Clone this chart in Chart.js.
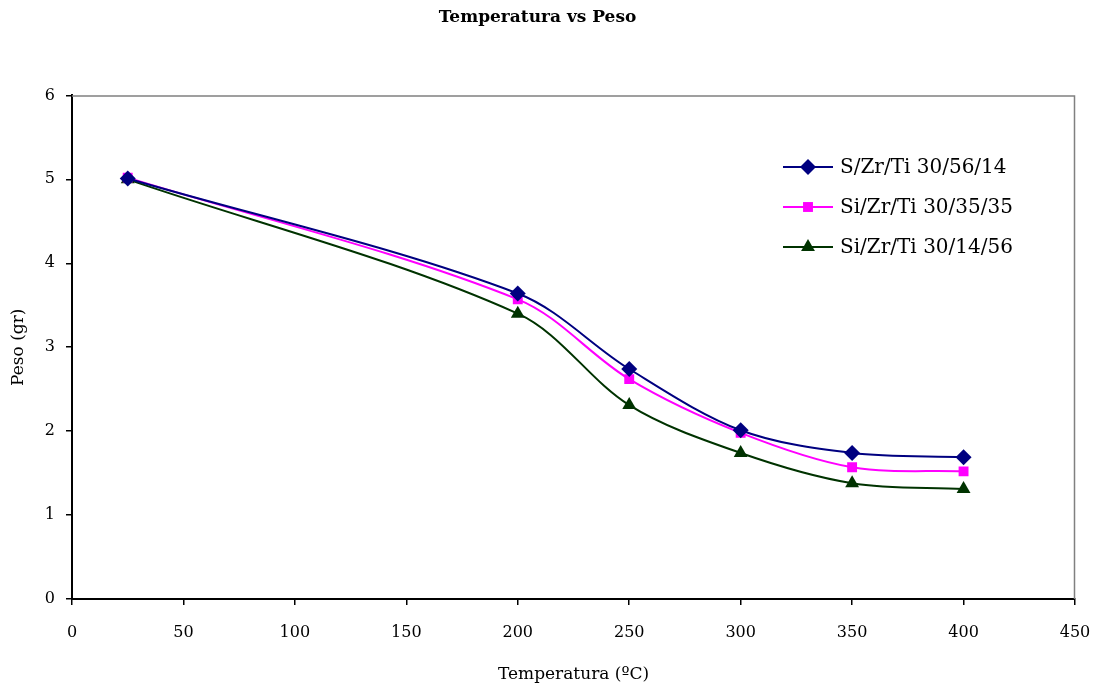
<!DOCTYPE html>
<html>
<head>
<meta charset="utf-8">
<script src="https://cdn.jsdelivr.net/npm/chart.js@4.4.0/dist/chart.umd.min.js"></script>
<style>
html,body{margin:0;padding:0;background:#fff;}
#wrap{width:1095px;height:687px;}
</style>
</head>
<body>
<div id="wrap"><canvas id="c" width="1095" height="687"></canvas></div>
<script>
const temperatures = [25, 200, 250, 300, 350, 400];
const seriesNames = ["S/Zr/Ti 30/56/14", "Si/Zr/Ti 30/35/35", "Si/Zr/Ti 30/14/56"];
const pesoA = [5.01, 3.64, 2.74, 2.01, 1.74, 1.69];
const pesoB = [5.02, 3.57, 2.62, 1.98, 1.57, 1.52];
const pesoC = [5.00, 3.40, 2.31, 1.74, 1.38, 1.31];
const xTicks = [0, 50, 100, 150, 200, 250, 300, 350, 400, 450];
const yTicks = [0, 1, 2, 3, 4, 5, 6];

const serif = "'DejaVu Serif', 'Liberation Serif', serif";
const colors = ["#000080", "#FF00FF", "#003300"];
const styles = ["rectRot", "rect", "triangle"];
const radii = [8, 7, 8];
const values = [pesoA, pesoB, pesoC];

const datasets = values.map((v, i) => ({
  label: seriesNames[i],
  data: temperatures.map((t, j) => ({x: t, y: v[j]})),
  borderColor: colors[i],
  backgroundColor: colors[i],
  borderWidth: 2,
  pointStyle: styles[i],
  pointRadius: radii[i],
  pointHoverRadius: radii[i],
  pointBorderWidth: 0,
  tension: 0.33,
  fill: false
}));

const frame = {
  id: 'frame',
  beforeDatasetsDraw(chart) {
    const {ctx, chartArea: a} = chart;
    ctx.save();
    ctx.strokeStyle = '#808080';
    ctx.lineWidth = 1.5;
    ctx.beginPath();
    ctx.moveTo(a.left, a.top + 0.5);
    ctx.lineTo(a.right - 0.5, a.top + 0.5);
    ctx.lineTo(a.right - 0.5, a.bottom);
    ctx.stroke();
    ctx.restore();
  }
};

const legendBox = {
  id: 'legendBox',
  afterDraw(chart) {
    const ctx = chart.ctx;
    const x0 = 783, x1 = 833, tx = 840;
    const ys = [167, 207, 247];
    ctx.save();
    chart.data.datasets.forEach((ds, i) => {
      const y = ys[i];
      ctx.strokeStyle = ds.borderColor;
      ctx.lineWidth = 2;
      ctx.beginPath();
      ctx.moveTo(x0, y);
      ctx.lineTo(x1, y);
      ctx.stroke();
      ctx.fillStyle = ds.backgroundColor;
      Chart.helpers.drawPoint(ctx, {pointStyle: ds.pointStyle, radius: ds.pointRadius, borderWidth: 0}, (x0 + x1) / 2, y);
      ctx.fillStyle = '#000';
      ctx.font = "20px " + serif;
      ctx.textBaseline = 'middle';
      ctx.textAlign = 'left';
      ctx.fillText(ds.label, tx, y + 1);
    });
    ctx.restore();
  }
};

new Chart(document.getElementById('c'), {
  type: 'line',
  data: {datasets},
  plugins: [frame, legendBox],
  options: {
    responsive: false,
    animation: false,
    layout: {padding: {left: 0, right: 20, top: 0, bottom: 0}},
    plugins: {
      legend: {display: false},
      tooltip: {enabled: false},
      title: {
        display: true,
        text: 'Temperatura vs Peso',
        color: '#000',
        font: {family: serif, size: 17, weight: 'bold'},
        padding: {top: 7, bottom: 68}
      }
    },
    scales: {
      x: {
        type: 'linear',
        min: 0, max: 450,
        afterBuildTicks(scale) { scale.ticks = xTicks.map(v => ({value: v})); },
        afterFit(scale) { scale.height = 88; scale.paddingLeft = 0; scale.paddingRight = 0; },
        grid: {display: true, drawOnChartArea: false, drawTicks: true, tickLength: 6, color: '#000', lineWidth: 1.5},
        border: {display: true, color: '#000', width: 2},
        ticks: {color: '#000', font: {family: serif, size: 16}, padding: 18, maxRotation: 0},
        title: {display: true, text: 'Temperatura (ºC)', color: '#000', font: {family: serif, size: 17}, padding: {top: 0, bottom: 2}}
      },
      y: {
        type: 'linear',
        min: 0, max: 6,
        afterBuildTicks(scale) { scale.ticks = yTicks.map(v => ({value: v})); },
        afterFit(scale) { scale.width = 72; scale.paddingTop = 0; scale.paddingBottom = 0; },
        grid: {display: true, drawOnChartArea: false, drawTicks: true, tickLength: 6, color: '#000', lineWidth: 1.5},
        border: {display: true, color: '#000', width: 2},
        ticks: {color: '#000', font: {family: serif, size: 16}, padding: 11},
        title: {display: true, text: 'Peso (gr)', color: '#000', font: {family: serif, size: 17}, padding: {top: 8, bottom: 0}}
      }
    }
  }
});
</script>
</body>
</html>
